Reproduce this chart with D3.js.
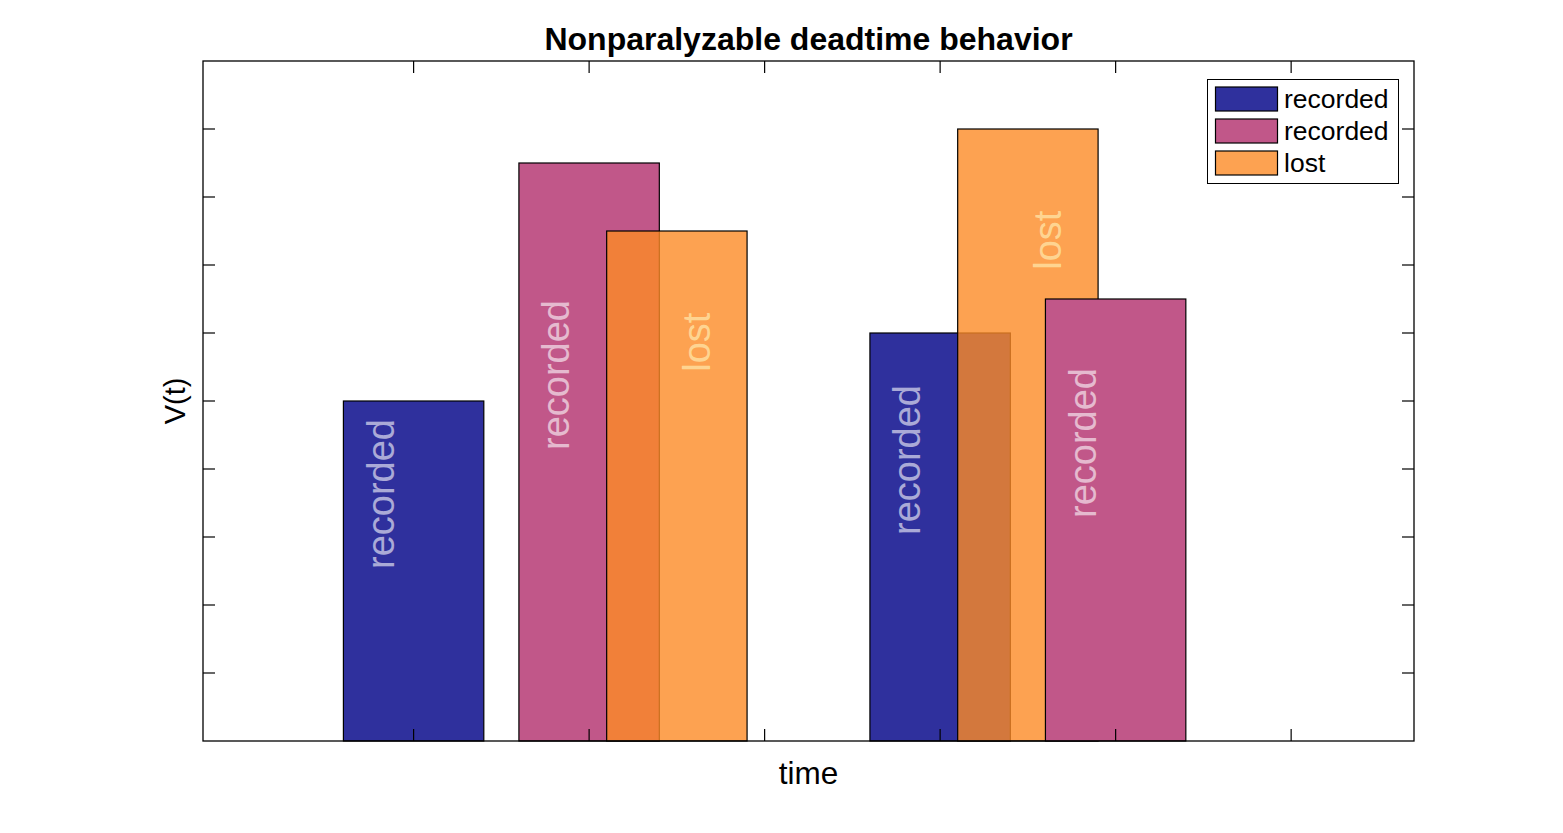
<!DOCTYPE html>
<html>
<head>
<meta charset="utf-8">
<script src="https://cdn.jsdelivr.net/npm/d3@7"></script>
<style>
  html, body { margin: 0; padding: 0; background: #fff; }
  svg { display: block; font-family: "Liberation Sans", Arial, Helvetica, sans-serif; }
</style>
</head>
<body>
<svg id="chart" width="1563" height="833"></svg>
<script>
// ---- data (in drawing / time order) ----
const eventTimes   = [1, 2, 2.5, 4, 4.5, 5];
const eventHeights = [5, 8.5, 7.5, 6, 9, 6.5];
const eventSeries  = [0, 1, 2, 0, 2, 1];
const seriesNames  = ["recorded", "recorded", "lost"];
const xTicks = [1, 2, 3, 4, 5, 6];
const yTicks = [1, 2, 3, 4, 5, 6, 7, 8, 9];
const xDomain = [-0.2, 6.7];
const yDomain = [0, 10];
const barWidth = 0.8;

// ---- styles ----
const seriesFill    = ["#2F309D", "#C15789", "rgb(252,139,38)"];
const seriesOpacity = [1, 1, 0.8];
const labelFill     = ["#ffffff", "#ffffff", "#fff2b8"];
const labelOpacity  = [0.6, 0.6, 0.65];

const svg = d3.select("#chart");
const m = { left: 203, right: 1414, top: 61, bottom: 741 };

const x = d3.scaleLinear().domain(xDomain).range([m.left, m.right]);
const y = d3.scaleLinear().domain(yDomain).range([m.bottom, m.top]);

const bars = eventTimes.map((t, i) => ({ t, h: eventHeights[i], s: eventSeries[i] }));

// bars
svg.append("g").selectAll("rect").data(bars).enter().append("rect")
  .attr("x", d => x(d.t - barWidth / 2))
  .attr("y", d => y(d.h))
  .attr("width", d => x(d.t + barWidth / 2) - x(d.t - barWidth / 2))
  .attr("height", d => y(0) - y(d.h))
  .attr("fill", d => seriesFill[d.s])
  .attr("fill-opacity", d => seriesOpacity[d.s])
  .attr("stroke", "#000")
  .attr("stroke-width", 1.2);

// bar labels (rotated)
svg.append("g").selectAll("text").data(bars).enter().append("text")
  .attr("transform", d => {
    const isLost = d.s === 2;
    const px = x(d.t) + (isLost ? 33 : -20);
    const py = isLost ? y(d.h - 1.2) : y(d.h / 2) - 2;
    return `translate(${px},${py}) rotate(-90)`;
  })
  .attr("text-anchor", d => d.s === 2 ? "end" : "start")
  .attr("font-size", 38)
  .attr("fill", d => labelFill[d.s])
  .attr("fill-opacity", d => labelOpacity[d.s])
  .text(d => seriesNames[d.s]);

// axes (ticks inside, no labels)
const tickLen = 12;
const axG = svg.append("g").attr("stroke", "#000").attr("stroke-width", 1.2);
xTicks.forEach(v => {
  axG.append("line").attr("x1", x(v)).attr("x2", x(v)).attr("y1", m.bottom).attr("y2", m.bottom - tickLen);
  axG.append("line").attr("x1", x(v)).attr("x2", x(v)).attr("y1", m.top).attr("y2", m.top + tickLen);
});
yTicks.forEach(v => {
  axG.append("line").attr("x1", m.left).attr("x2", m.left + tickLen).attr("y1", y(v)).attr("y2", y(v));
  axG.append("line").attr("x1", m.right).attr("x2", m.right - tickLen).attr("y1", y(v)).attr("y2", y(v));
});
svg.append("rect")
  .attr("x", m.left).attr("y", m.top)
  .attr("width", m.right - m.left).attr("height", m.bottom - m.top)
  .attr("fill", "none").attr("stroke", "#000").attr("stroke-width", 1.3);

// title & axis labels
svg.append("text")
  .attr("x", (m.left + m.right) / 2).attr("y", 50)
  .attr("text-anchor", "middle").attr("font-size", 32).attr("font-weight", "bold")
  .attr("fill", "#000")
  .text("Nonparalyzable deadtime behavior");

svg.append("text")
  .attr("x", (m.left + m.right) / 2).attr("y", 784)
  .attr("text-anchor", "middle").attr("font-size", 31.5)
  .attr("fill", "#000")
  .text("time");

svg.append("text")
  .attr("transform", `translate(185,${(m.top + m.bottom) / 2}) rotate(-90)`)
  .attr("text-anchor", "middle").attr("font-size", 29)
  .attr("fill", "#000")
  .text("V(t)");

// legend
const lg = svg.append("g");
lg.append("rect")
  .attr("x", 1207.5).attr("y", 79.5).attr("width", 191).attr("height", 104)
  .attr("fill", "#fff").attr("stroke", "#000").attr("stroke-width", 1);
seriesNames.forEach((name, i) => {
  const ry = 87 + i * 32;
  lg.append("rect")
    .attr("x", 1215.5).attr("y", ry).attr("width", 62).attr("height", 24)
    .attr("fill", seriesFill[i]).attr("fill-opacity", seriesOpacity[i])
    .attr("stroke", "#000").attr("stroke-width", 1.2);
  lg.append("text")
    .attr("x", 1284).attr("y", ry + 21)
    .attr("font-size", 26.5).attr("fill", "#000")
    .text(name);
});
</script>
</body>
</html>
